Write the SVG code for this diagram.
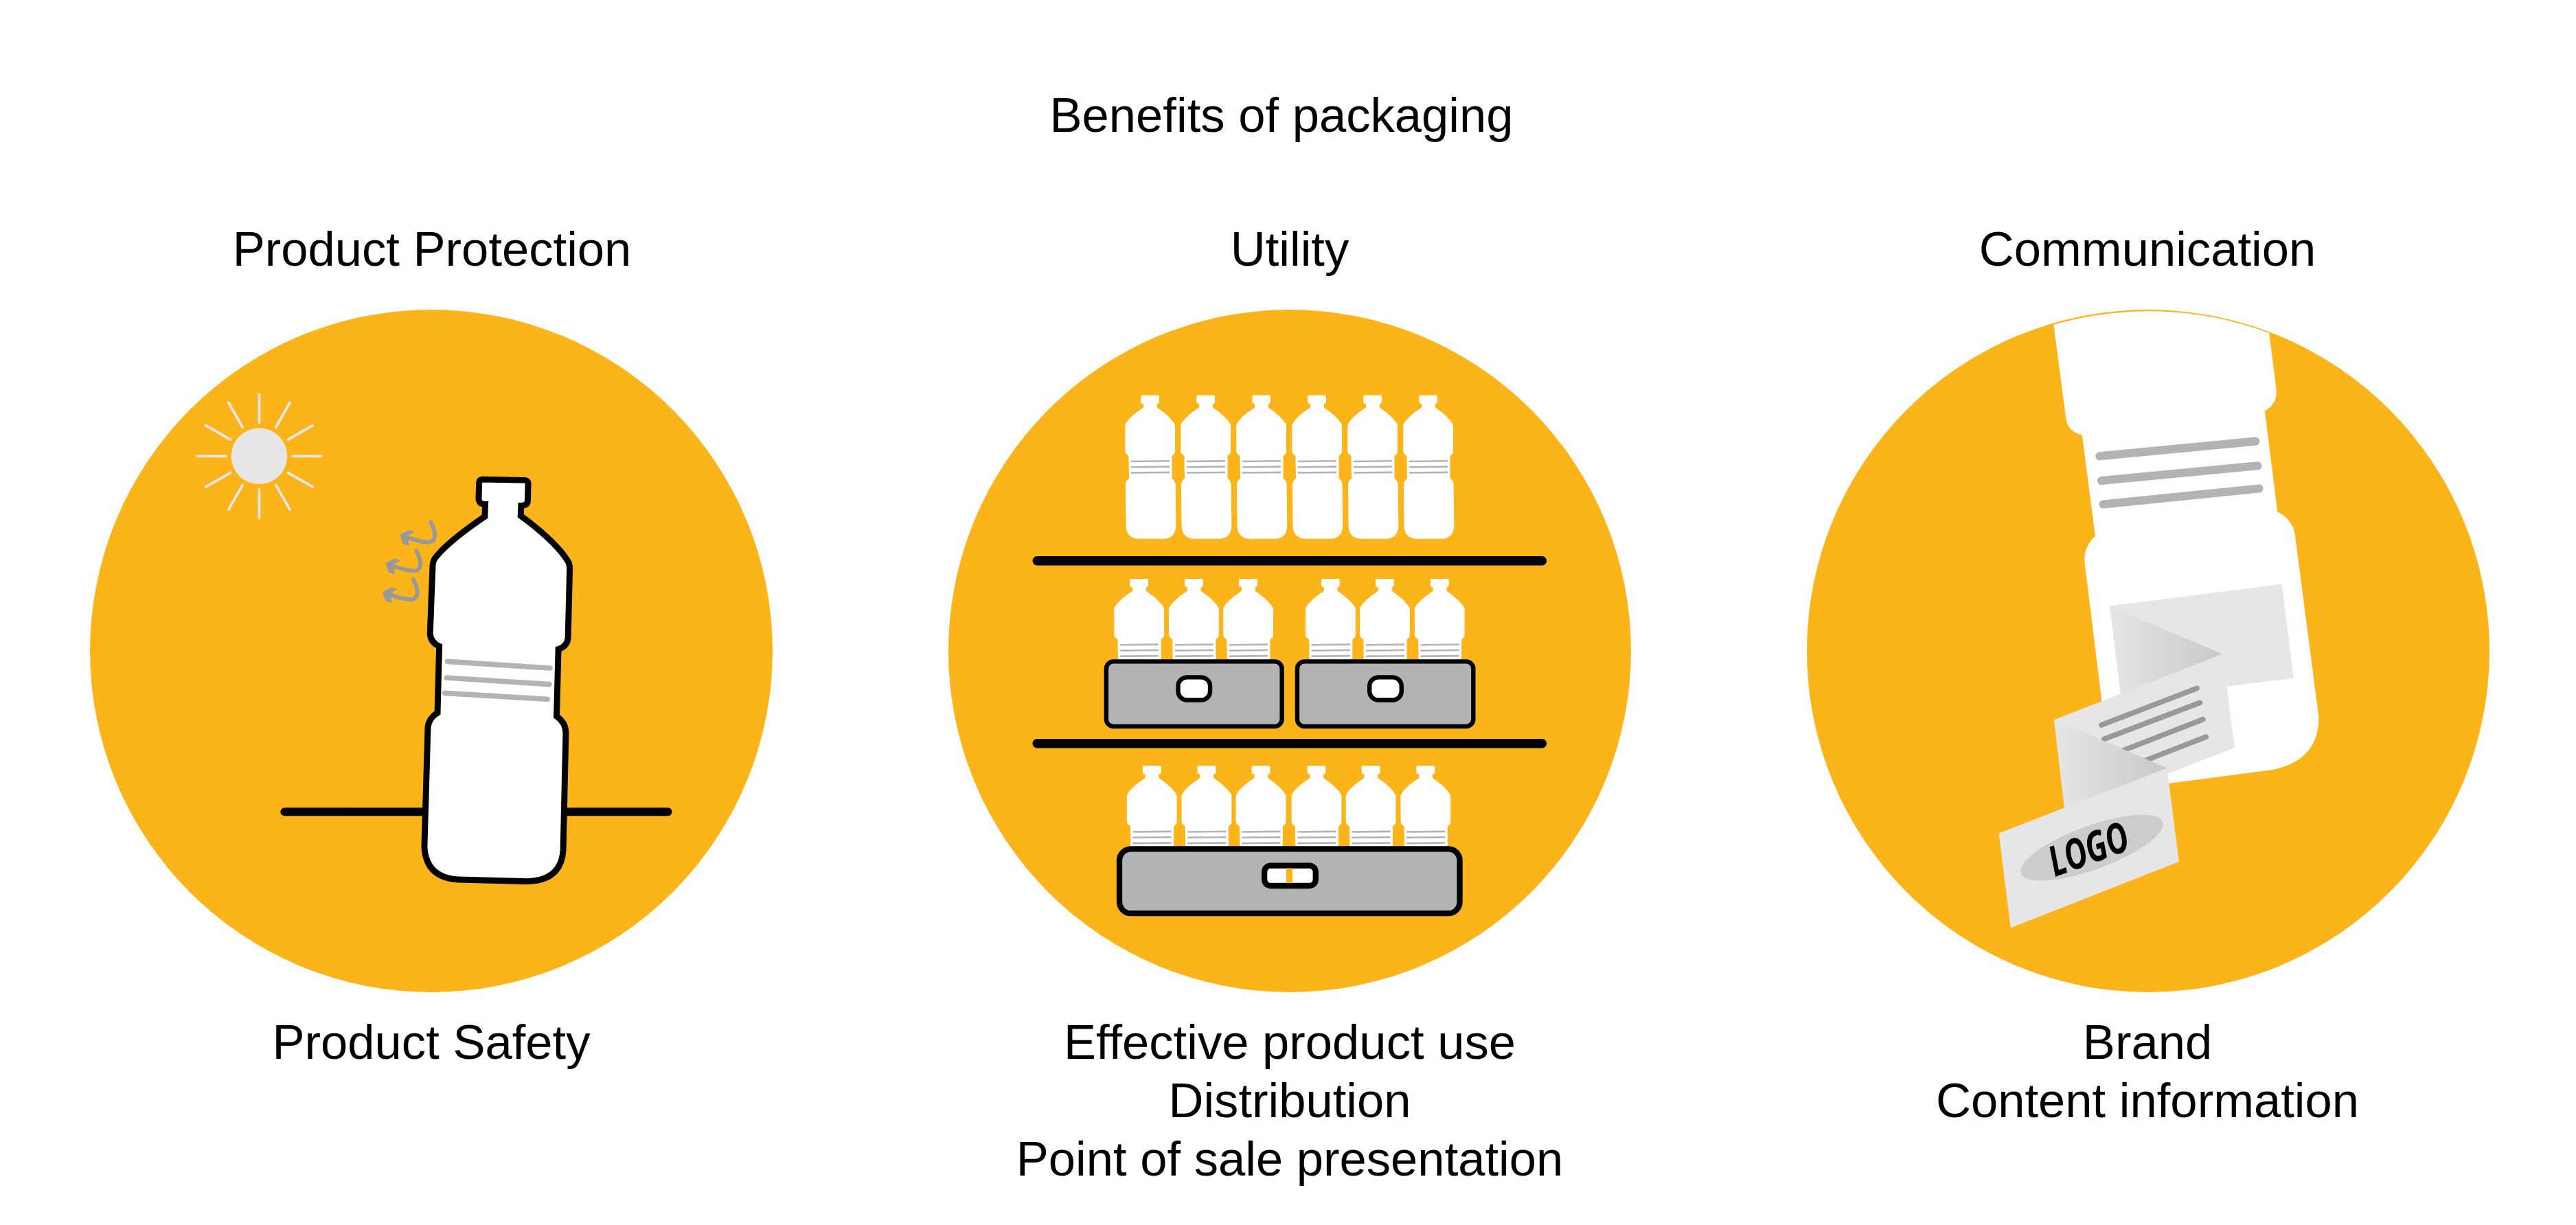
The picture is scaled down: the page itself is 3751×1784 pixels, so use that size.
<svg xmlns="http://www.w3.org/2000/svg" width="3751" height="1784" viewBox="0 0 3751 1784">
<style>
.t{font-family:"Liberation Sans",Arial,sans-serif;font-size:70.6px;fill:#000;text-anchor:middle}
.o{fill:#fbb41a}
.sl{stroke:#b3b3b3;stroke-width:4;stroke-linecap:round;fill:none}
.crate{fill:#b3b3b3;stroke:#000;stroke-width:10}
.hole{fill:#fff;stroke:#000;stroke-width:10}
.shelf{stroke:#000;stroke-width:21;stroke-linecap:round}
.ray{stroke:#e6e6e6;stroke-width:6;stroke-linecap:round}
.big{stroke:#b3b3b3;stroke-width:12;stroke-linecap:round}
.cl{stroke:#b3b3b3;stroke-width:19;stroke-linecap:round}
.pl{stroke:#999;stroke-width:12;stroke-linecap:round}
</style>
<defs>
<g id="sb"><path fill="#fff" d="M443,197 L481,197 Q483,197 483,200 L483,212 Q483,216 478,216 L478,225 Q508,245 519,264 L519,325 Q519,332 512,335 L512,387 Q520,393 520,402 L521,495 Q520,524 492,525 L435,525 Q408,523 407,495 L406,402 Q406,393 414,387 L413,335 Q406,332 405,325 L405,264 Q415,245 447,225 L447,216 Q441,216 441,212 L441,200 Q441,197 443,197Z"/><path class="sl" d="M420,348L505,347M420,361L505,360M420,374L505,373"/></g>
<linearGradient id="fold" x1="0" y1="0" x2="1" y2="0"><stop offset="0" stop-color="#e6e6e6"/><stop offset="1" stop-color="#c8c8c8"/></linearGradient>
<g id="arrow"><path d="M322,242 C345,285 355,340 290,327 C260,322 235,315 210,303" fill="none" stroke="#999" stroke-width="18" stroke-linecap="round"/><polygon fill="#999" points="186,295 228,275 252,285 222,300 228,345 200,335"/></g>
</defs>
<rect width="3751" height="1784" fill="#fff"/>
<text class="t" x="1866" y="192">Benefits of packaging</text>
<text class="t" x="629" y="387">Product Protection</text>
<text class="t" x="1878" y="387">Utility</text>
<text class="t" x="3127" y="387">Communication</text>
<g id="protection">
<circle class="o" cx="628" cy="948" r="497"/>
<g transform="translate(130,450) scale(.6378)">
<g id="sun"><circle cx="388" cy="336" r="64" fill="#e6e6e6"/>
<g transform="translate(388,336)"><path class="ray" id="rays" d="M0,-76V-141M38,-66L70,-122M66,-38L122,-70M76,0H141M66,38L122,70M38,66L70,122M0,76V141M-38,66L-70,122M-66,38L-122,70M-76,0H-141M-66,-38L-122,-70M-38,-66L-70,-122"/></g></g>
<path stroke="#000" stroke-width="19" stroke-linecap="round" d="M446,1148H1321"/>
<path id="bottle" fill="#fff" stroke="#000" stroke-width="14" d="M897,389 L994,391 Q1002,391 1002,399 L1001,438 Q1001,449 986,449 L985,472 Q1070,535 1095,580 L1097,590 L1093,750 Q1092,770 1071,777 L1067,930 Q1088,945 1088,968 L1082,1235 Q1078,1305 1000,1307 L845,1303 Q770,1300 765,1230 L773,955 Q775,935 795,922 L799,770 Q780,762 778,742 L784,585 Q785,575 790,568 Q820,530 903,474 L904,446 Q889,446 889,432 L890,397 Q890,389 897,389Z"/>
<path class="big" d="M818,805L1052,820M816,842L1050,857M812,877L1046,891"/>
</g>
<g id="vapour" transform="translate(520,680) scale(.3333)">
<use href="#arrow"/><use href="#arrow" x="-63" y="125"/><use href="#arrow" x="-76" y="250"/>
</g>
</g>
<text class="t" x="628" y="1542">Product Safety</text>
<g id="utility">
<circle class="o" cx="1878" cy="948" r="497"/>
<g transform="translate(1380,450) scale(.6378)">
<g id="row1"><use href="#sb"/><use href="#sb" x="127"/><use href="#sb" x="254"/><use href="#sb" x="381"/><use href="#sb" x="508"/><use href="#sb" x="635"/></g>
<path class="shelf" d="M204,575H1357M204,992H1357"/>
<g id="row2"><use href="#sb" x="-25" y="419"/><use href="#sb" x="100" y="419"/><use href="#sb" x="224" y="419"/><use href="#sb" x="412" y="419"/><use href="#sb" x="536" y="419"/><use href="#sb" x="661" y="419"/></g>
<g id="crate1"><rect class="crate" x="362" y="805" width="401" height="148" rx="16"/><rect class="hole" x="526" y="841" width="73" height="52" rx="20"/></g>
<g id="crate2"><rect class="crate" x="798" y="805" width="402" height="148" rx="16"/><rect class="hole" x="963" y="841" width="73" height="52" rx="20"/></g>
<g id="row3"><use href="#sb" x="4" y="846"/><use href="#sb" x="129" y="846"/><use href="#sb" x="253" y="846"/><use href="#sb" x="380" y="846"/><use href="#sb" x="504" y="846"/><use href="#sb" x="629" y="846"/></g>
<g id="crate3"><rect class="crate" style="stroke-width:13" x="392" y="1233" width="777" height="147" rx="26"/><rect class="hole" style="stroke-width:13" x="723" y="1271" width="117" height="46" rx="14"/><rect class="o" x="773" y="1277" width="14" height="34"/></g>
</g>
</g>
<text class="t" x="1878" y="1542">Effective product use</text>
<text class="t" x="1878" y="1627">Distribution</text>
<text class="t" x="1878" y="1712">Point of sale presentation</text>
<g id="communication">
<circle class="o" cx="3128" cy="948" r="497"/>
<g transform="translate(2630,450) scale(.6378)">
<path fill="#fff" d="M565,36 A778,778 0 0 1 1057,55 L1073,180 Q1078,215 1047,233 L1076,463 Q1110,480 1116,515 L1170,930 Q1172,1030 1065,1052 L830,1083 L700,1100 L636,580 Q632,545 660,518 L630,288 Q600,280 594,255 Z"/>
<path class="cl" d="M670,336L1026,302M674,392L1031,358M678,446L1034,410"/>
<polygon fill="#e6e6e6" points="693,678 1086,628 1113,843 960,862 951,788"/>
<polygon fill="url(#fold)" points="693,678 951,788 718,880"/>
<polygon fill="#e6e6e6" points="566,938 951,788 978,1002 591,1152"/>
<path class="pl" d="M674,950L892,866M680,982L899,899M690,1021L906,937M697,1061L913,977"/>
<polygon fill="url(#fold)" points="566,938 824,1048 591,1140"/>
<polygon fill="#e6e6e6" points="824,1048 851,1262 467,1413 440,1197"/>
<ellipse cx="652" cy="1230" rx="172" ry="50" fill="#ccc" transform="rotate(-20 652 1230)"/>
<text id="logo" x="645" y="1267" transform="rotate(-20 645 1235)" text-anchor="middle" font-family="'Open Sans','Liberation Sans',sans-serif" font-weight="700" font-style="italic" font-size="96" textLength="188" lengthAdjust="spacingAndGlyphs">LOGO</text>
</g>
</g>
<text class="t" x="3127" y="1542">Brand</text>
<text class="t" x="3127" y="1627">Content information</text>
</svg>
